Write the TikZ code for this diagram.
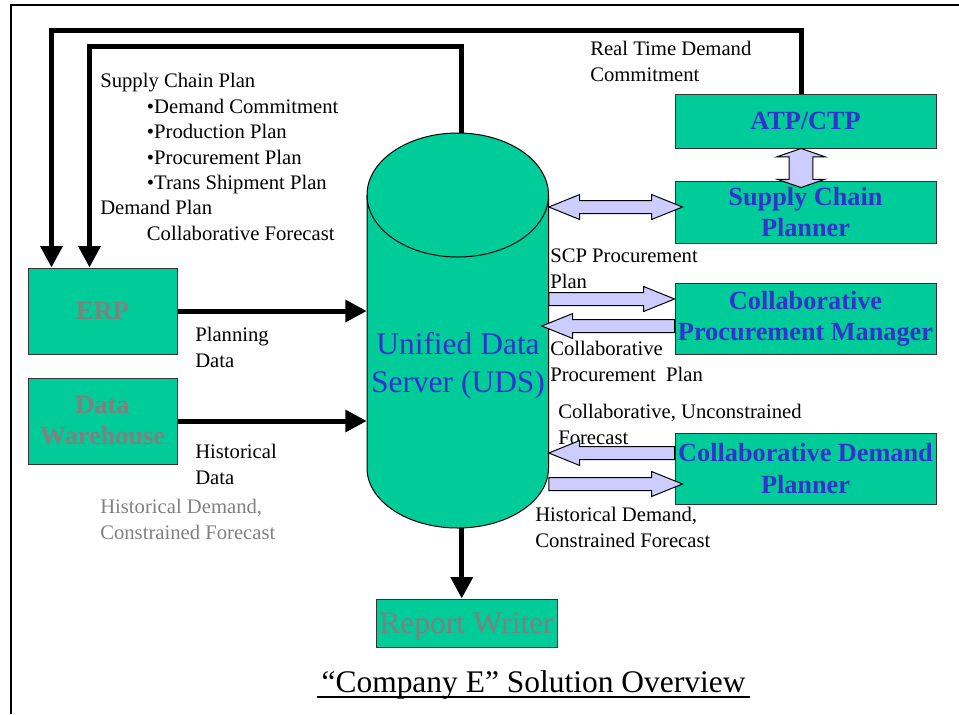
\documentclass[tikz,border=0pt]{standalone}
\usepackage{fontspec}
\setmainfont{Liberation Serif}
\usetikzlibrary{arrows.meta,calc,fit,shapes.arrows}

\definecolor{udsgreen}{HTML}{00CC99}
\definecolor{boxblue}{HTML}{3333CC}
\definecolor{lav}{HTML}{CCCCFF}
\definecolor{txtgray}{HTML}{808080}

\tikzset{
  box/.style={draw=black!80, fill=udsgreen, line width=0.75pt, inner sep=0pt, align=center},
  leftbox/.style={box, minimum width=111.75pt, minimum height=64.5pt},
  rightbox/.style={box, minimum width=195.75pt},
  bluebox/.style={rightbox, text=boxblue, font=\fontsize{19.7}{23.3}\selectfont\bfseries},
  graybox/.style={leftbox, text=txtgray, font=\fontsize{19.7}{23.3}\selectfont\bfseries},
  lbl/.style={inner sep=0pt, anchor=north west, align=left, font=\fontsize{15.5}{19.1}\selectfont},
  big/.style={font=\fontsize{23.6}{28.5}\selectfont},
  thickarrow/.style={line width=3.75pt, -{Triangle[length=16pt,width=16pt]}},
  arrowfill/.style={draw=black, fill=lav, line width=0.75pt, inner sep=0pt, outer sep=0pt},
  fatone/.style={single arrow, arrowfill, inner ysep=4.5pt, single arrow head extend=4.5pt, single arrow tip angle=44},
  fattwo/.style={double arrow, arrowfill, inner ysep=4.5pt, double arrow head extend=4.5pt, double arrow tip angle=44},
  fat/.style={to path={let \p1=($(\tikztotarget)-(\tikztostart)$) in
    node[fatone, minimum height={veclen(\x1,\y1)}, rotate={atan2(\y1,\x1)}, anchor=tail] at (\tikztostart) {}}},
  fatboth/.style={to path={let \p1=($(\tikztotarget)-(\tikztostart)$) in
    node[fattwo, minimum height={veclen(\x1,\y1)}, rotate={atan2(\y1,\x1)}, #1] at ($(\tikztostart)!0.5!(\tikztotarget)$) {}}},
  fatboth/.default={},
}

\begin{document}
\begin{tikzpicture}[x=0.75pt,y=-0.75pt]
\useasboundingbox (0,0) rectangle (959,714);
% frame
\draw[line width=1.5pt] (11,714) -- (11,5) -- (959,5);

% unified data server
\fill[udsgreen] (367,195) -- (367,468) arc[start angle=180, end angle=0, x radius=90.75, y radius=60]
  -- (548.5,195) arc[start angle=0, end angle=-180, x radius=90.75, y radius=62] -- cycle;
\draw[line width=0.75pt] (367,195) -- (367,468) arc[start angle=180, end angle=0, x radius=90.75, y radius=60]
  -- (548.5,195) arc[start angle=0, end angle=-180, x radius=90.75, y radius=62];
\draw[line width=0.75pt] (367,195) arc[start angle=180, end angle=0, x radius=90.75, y radius=62];
\node[fit={(367,133) (548.5,528)}, inner sep=0pt] (uds) {};
\node[big, text=boxblue, align=center] (udstext) at (458,366) {Unified Data\\Server (UDS)};

% boxes
\node[graybox] (erp) at (102.5,311) {ERP};
\node[graybox] (dw) at (102.5,421) {Data\\Warehouse};
\node[bluebox, minimum height=40.5pt] (atp) at (805.5,121) {ATP/CTP};
\node[bluebox, minimum height=46.5pt] (scp) at (805.5,212) {Supply Chain\\Planner};
\node[bluebox, minimum height=53.25pt] (cpm) at (805.5,318.5) {Collaborative\\Procurement Manager};
\node[bluebox, minimum height=53.25pt] (cdp) at (805.5,468.5) {Collaborative Demand\\Planner};
\node[box, big, text=txtgray, text depth=0pt, minimum width=135.75pt, minimum height=36pt] (rw) at (466.5,623) {Report Writer};

% labels
\node[lbl] (planlbl) at (100,73) {Supply Chain Plan\\
  \hspace*{35pt}•Demand Commitment\\
  \hspace*{35pt}•Production Plan\\
  \hspace*{35pt}•Procurement Plan\\
  \hspace*{35pt}•Trans Shipment Plan\\
  Demand Plan\\
  \hspace*{35pt}Collaborative Forecast};
\node[lbl] (rtlbl) at (590,41) {Real Time Demand\\Commitment};
\node[lbl] (scplbl) at (550,249) {SCP Procurement\\Plan};
\node[lbl] (cpplbl) at (550,341) {Collaborative\\Procurement\ \ Plan};
\node[lbl] (cuflbl) at (558,404) {Collaborative, Unconstrained\\Forecast};
\node[lbl] (hdlbl) at (535,507) {Historical Demand,\\Constrained Forecast};
\node[lbl] (pdlbl) at (195,327) {Planning\\Data};
\node[lbl] (hislbl) at (195,444) {Historical\\Data};
\node[lbl, text=txtgray] (ghdlbl) at (100,499) {Historical Demand,\\Constrained Forecast};

% black arrows
\coordinate (udstop) at ($(uds.north)+(4,0)$);
\coordinate (udsfoot) at ($(uds.south)+(4,0)$);
\draw[thickarrow] ($(atp.north)+(-4.5,0)$) -- ++(0,-63) -| ($(erp.north west)+(24,0)$);
\draw[thickarrow] (udstop) -- ++(0,-86) -| ($(erp.north west)+(62,0)$);
\draw[thickarrow] (erp.east) -- (erp.east -| uds.west);
\draw[thickarrow] (dw.east) -- (dw.east -| uds.west);
\draw[thickarrow] (udsfoot) -- (udsfoot |- rw.north);

% fat arrows
\coordinate (scpend) at ($(scp.west)+(8,-5)$);
\coordinate (atpfoot) at ($(atp.south)+(-4.5,0)$);
\coordinate (scptop) at ($(scp.north)+(-4.5,7)$);
\coordinate (procend) at ($(cpm.west)+(0,-19.5)$);
\coordinate (collstart) at ($(cpm.west)+(0,7.5)$);
\coordinate (colltip) at ($(uds.east |- collstart)+(-7,0)$);
\coordinate (cufstart) at ($(cdp.west)+(0,-15.5)$);
\coordinate (histend) at ($(cdp.west)+(8,15.5)$);
\path (scpend -| uds.east) to[fatboth] (scpend);
\path (atpfoot) to[fatboth={inner ysep=8.6pt, double arrow head extend=9pt, double arrow tip angle=142}] (scptop);
\path (procend -| uds.east) to[fat] (procend);
\path (collstart) to[fat] (colltip);
\path (cufstart) to[fat] (cufstart -| uds.east);
\path (histend -| uds.east) to[fat] (histend);

% title
\node[big, anchor=base] (title) at (533.5,692) {“Company E” Solution Overview};
\draw[line width=1.6pt] ($(title.base west)+(0,5)$) -- ($(title.base east)+(0,5)$);
\end{tikzpicture}
\end{document}
